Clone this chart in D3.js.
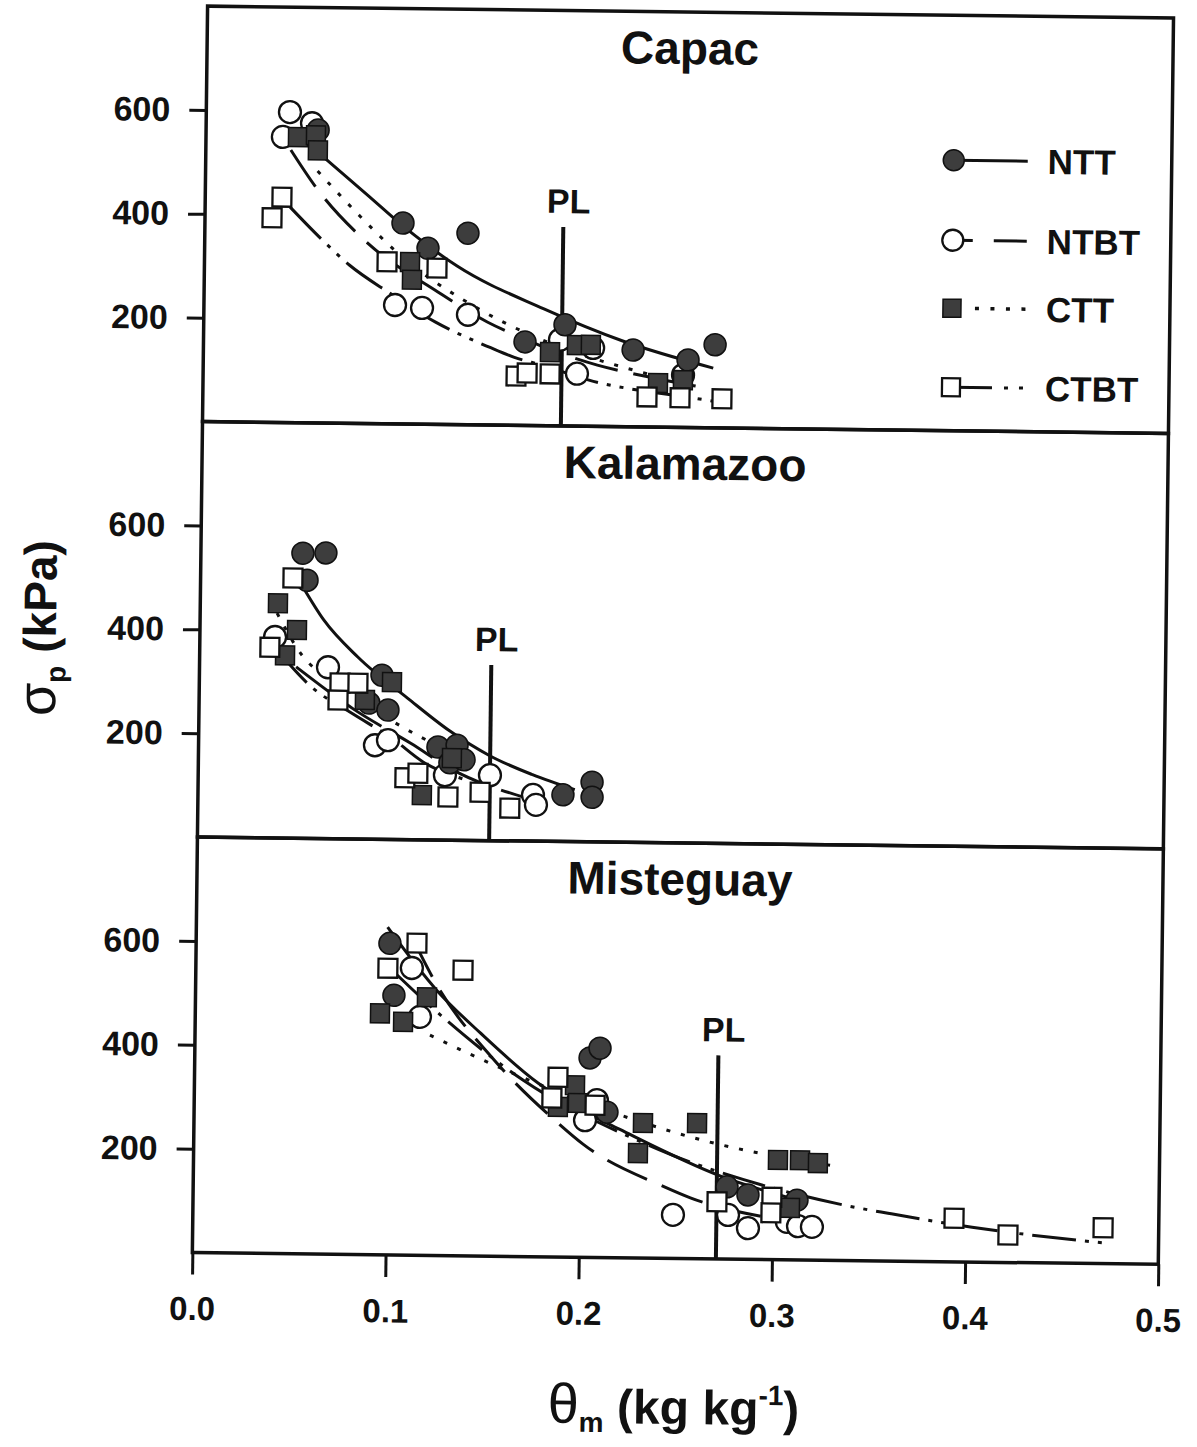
<!DOCTYPE html>
<html>
<head>
<meta charset="utf-8">
<script src="https://cdn.jsdelivr.net/npm/d3@7/dist/d3.min.js"></script>
<style>
  html, body { margin: 0; padding: 0; background: #ffffff; }
  svg text { font-family: "Liberation Sans", Arial, Helvetica, sans-serif; fill: #111; }
</style>
</head>
<body>
<svg id="chart" width="1197" height="1447"></svg>
<script>
// Sites (one panel each, top to bottom) and tillage treatments
const sites = ["Capac", "Kalamazoo", "Misteguay"];
const treatments = ["NTT", "NTBT", "CTT", "CTBT"];
const xTickValues = [0, 0.1, 0.2, 0.3, 0.4, 0.5];
const yTickValues = [200, 400, 600];
// Plastic limit (kg kg-1) of each site and the height (kPa) its marker line reaches
const plasticLimit = [0.1855, 0.151, 0.271];
const plasticLimitTop = [383, 338, 392];

// Measured precompression stress [θm (kg kg-1), σp (kPa)]
const capacNTT = [[0.058,564],[0.1025,387],[0.1156,339],[0.1362,369],[0.187,195],[0.1664,161],[0.2224,148],[0.2509,130],[0.2648,160]];
const capacNTBT = [[0.0433,598],[0.0548,577],[0.0398,550],[0.0989,229],[0.1129,224],[0.1367,212],[0.1845,166],[0.2017,151],[0.1935,101],[0.2484,101]];
const capacCTT = [[0.0476,550],[0.0569,554],[0.058,525],[0.1064,312],[0.1075,278],[0.1794,142],[0.1933,156],[0.2005,157],[0.2355,85],[0.2484,91]];
const capacCTBT = [[0.0397,434],[0.0347,394],[0.0945,312],[0.1204,301],[0.162,95],[0.1677,101],[0.1796,100],[0.2299,58],[0.247,57],[0.2687,56]];

const kalamazooNTT = [[0.0528,549],[0.0647,550],[0.0551,497],[0.0945,316],[0.0879,262],[0.0978,249],[0.1239,179],[0.1338,183],[0.1302,149],[0.1375,155],[0.1889,90],[0.2039,115],[0.204,86]];
const kalamazooNTBT = [[0.0389,387],[0.0665,330],[0.0913,181],[0.098,191],[0.1277,125],[0.151,126],[0.1734,89],[0.175,70]];
const kalamazooCTT = [[0.0402,452],[0.0502,401],[0.0442,352],[0.0997,303],[0.0858,268],[0.1159,86],[0.1312,158]];
const kalamazooCTBT = [[0.0478,501],[0.0363,367],[0.0728,300],[0.0821,300],[0.0719,267],[0.107,119],[0.1137,128],[0.1294,83],[0.146,93],[0.1615,63]];

const misteguayNTT = [[0.1003,600],[0.1027,500],[0.2046,384],[0.2097,403],[0.2137,280],[0.2763,139],[0.2872,124],[0.3126,115]];
const misteguayNTBT = [[0.1118,553],[0.1163,459],[0.2084,303],[0.2024,264],[0.2485,84],[0.277,85],[0.2874,60],[0.3075,73],[0.3133,65],[0.3205,64]];
const misteguayCTT = [[0.0956,465],[0.1076,449],[0.1198,497],[0.197,331],[0.1986,297],[0.1883,289],[0.2324,260],[0.2604,261],[0.23,202],[0.3025,192],[0.3139,192],[0.3232,187],[0.309,100]];
const misteguayCTBT = [[0.1143,601],[0.0994,552],[0.1383,550],[0.1881,346],[0.1851,306],[0.2075,293],[0.2712,110],[0.2996,120],[0.2992,90],[0.394,84],[0.422,53],[0.4712,69]];

// Fitted curves, sampled along each regression line [θm, σp]
const capacNTTFit = [[0.061,512],[0.084,440],[0.103,380],[0.131,305],[0.176,225],[0.217,165],[0.264,115]];
const capacNTBTFit = [[0.044,525],[0.058,450],[0.083,352],[0.121,255],[0.147,198],[0.16,176],[0.204,118],[0.2245,101],[0.255,80]];
const capacCTTFit = [[0.058,485],[0.08,400],[0.1,329],[0.143,222],[0.19,145],[0.22,112],[0.25,85]];
const capacCTBTFit = [[0.044,415],[0.061,352],[0.075,305],[0.096,252],[0.12,197],[0.148,150],[0.161,131],[0.175,117],[0.205,84],[0.225,71],[0.254,57],[0.266,50]];

const kalamazooNTTFit = [[0.053,484],[0.064,421],[0.082,350],[0.108,272],[0.13,210],[0.151,163],[0.173,128],[0.195,100]];
const kalamazooNTBTFit = [[0.05,330],[0.08,250],[0.11,185],[0.132,135],[0.17,83]];
const kalamazooCTTFit = [[0.0398,433],[0.0529,353],[0.07,300],[0.1,228],[0.13,170]];
const kalamazooCTBTFit = [[0.04,362],[0.058,292],[0.08,240],[0.1,195],[0.1163,150],[0.14,115]];

const misteguayNTTFit = [[0.099,631],[0.125,510],[0.1475,430],[0.178,334],[0.196,292],[0.2205,247],[0.2726,160],[0.315,113]];
const misteguayNTBTFit = [[0.1117,612],[0.125,520],[0.1544,380],[0.1884,258],[0.2015,218],[0.2442,137],[0.2574,117],[0.2987,80],[0.32,68]];
const misteguayCTTFit = [[0.1216,424],[0.16,360],[0.2204,275],[0.2636,228],[0.3295,183]];
const misteguayCTBTFit = [[0.1005,552],[0.1282,459],[0.17,340],[0.2294,227],[0.2585,184],[0.2726,167],[0.3452,101],[0.3598,92],[0.4034,67],[0.4713,40]];

// ---------------------------------------------------------------------------

const panels = [
  { points: { NTT: capacNTT, NTBT: capacNTBT, CTT: capacCTT, CTBT: capacCTBT },
    fits:   { NTT: capacNTTFit, NTBT: capacNTBTFit, CTT: capacCTTFit, CTBT: capacCTBTFit } },
  { points: { NTT: kalamazooNTT, NTBT: kalamazooNTBT, CTT: kalamazooCTT, CTBT: kalamazooCTBT },
    fits:   { NTT: kalamazooNTTFit, NTBT: kalamazooNTBTFit, CTT: kalamazooCTTFit, CTBT: kalamazooCTBTFit } },
  { points: { NTT: misteguayNTT, NTBT: misteguayNTBT, CTT: misteguayCTT, CTBT: misteguayCTBT },
    fits:   { NTT: misteguayNTTFit, NTBT: misteguayNTBTFit, CTT: misteguayCTTFit, CTBT: misteguayCTBTFit } }
];

const style = {
  NTT:  { shape: "circle", filled: true,  dash: null },
  NTBT: { shape: "circle", filled: false, dash: "44,16" },
  CTT:  { shape: "square", filled: true,  dash: "4,11" },
  CTBT: { shape: "square", filled: false, dash: "44,9,4,9,4,9" }
};

const ink = "#111";
const darkFill = "#3d3d3d";
const plot = { left: 200, right: 1166, top: 12, panelHeight: 415.5 };
const font = "Liberation Sans, Arial, Helvetica, sans-serif";

const svg = d3.select("#chart");
// the whole figure sits slightly tilted on the page
const figure = svg.append("g").attr("transform", "rotate(0.7 684 630)");

const x = d3.scaleLinear().domain([0, 0.5]).range([plot.left, plot.right]);

function drawMarkers(g, data, t, y) {
  const s = style[t];
  const r = 11;
  const fill = s.filled ? darkFill : "#fff";
  const sw = s.filled ? 1.5 : 2.3;
  if (s.shape === "circle") {
    g.append("g").selectAll("circle").data(data).join("circle")
      .attr("cx", d => x(d[0])).attr("cy", d => y(d[1])).attr("r", r)
      .attr("fill", fill).attr("stroke", ink).attr("stroke-width", sw);
  } else {
    const h = r * 0.86;
    g.append("g").selectAll("rect").data(data).join("rect")
      .attr("x", d => x(d[0]) - h).attr("y", d => y(d[1]) - h)
      .attr("width", 2 * h).attr("height", 2 * h)
      .attr("fill", fill).attr("stroke", ink).attr("stroke-width", sw);
  }
}

panels.forEach((p, i) => {
  const top = plot.top + i * plot.panelHeight;
  const bottom = top + plot.panelHeight;
  const y = d3.scaleLinear().domain([0, 800]).range([bottom, top]);
  const g = figure.append("g").attr("class", "panel");

  // regression curves
  const line = d3.line().x(d => x(d[0])).y(d => y(d[1])).curve(d3.curveMonotoneX);
  treatments.forEach(t => {
    g.append("path")
      .attr("d", line(p.fits[t]))
      .attr("fill", "none").attr("stroke", ink).attr("stroke-width", 3)
      .attr("stroke-dasharray", style[t].dash);
  });

  // plastic limit marker
  const plx = x(plasticLimit[i]);
  g.append("line")
    .attr("x1", plx).attr("x2", plx)
    .attr("y1", y(0)).attr("y2", y(plasticLimitTop[i]))
    .attr("stroke", ink).attr("stroke-width", 4);
  g.append("text")
    .attr("x", plx + 5).attr("y", y(plasticLimitTop[i]) - 14)
    .attr("text-anchor", "middle")
    .attr("font-size", 34).attr("font-weight", "bold")
    .text("PL");

  // data points
  ["NTBT", "NTT", "CTT", "CTBT"].forEach(t => drawMarkers(g, p.points[t], t, y));

  // panel frame
  g.append("rect")
    .attr("x", plot.left).attr("y", top)
    .attr("width", plot.right - plot.left).attr("height", plot.panelHeight)
    .attr("fill", "none").attr("stroke", ink).attr("stroke-width", 3.5);

  // y axis
  const yAxis = d3.axisLeft(y).tickValues(yTickValues).tickSize(17).tickPadding(19).tickFormat(d3.format("d"));
  const ya = g.append("g").attr("transform", `translate(${plot.left},0)`).call(yAxis);
  ya.select(".domain").remove();
  ya.attr("font-size", 34).attr("font-family", font).attr("font-weight", "bold");
  ya.selectAll(".tick line").attr("stroke", ink).attr("stroke-width", 3);
  ya.selectAll(".tick text").attr("fill", ink);

  // site title
  g.append("text")
    .attr("x", (plot.left + plot.right) / 2).attr("y", top + 52)
    .attr("text-anchor", "middle")
    .attr("font-size", 46).attr("font-weight", "bold")
    .text(sites[i]);

  // x axis on the bottom panel
  if (i === panels.length - 1) {
    const xAxis = d3.axisBottom(x).tickValues(xTickValues).tickSize(22).tickPadding(22).tickFormat(d3.format(".1f"));
    const xa = g.append("g").attr("transform", `translate(0,${bottom})`).call(xAxis);
    xa.select(".domain").remove();
    xa.attr("font-size", 33).attr("font-family", font).attr("font-weight", "bold");
    xa.selectAll(".tick line").attr("stroke", ink).attr("stroke-width", 3);
    xa.selectAll(".tick text").attr("fill", ink);
  }

  // legend in the top panel
  if (i === 0) {
    const rows = [157, 237, 305, 384];
    const mx = 948, lineEnd = 1022, textX = 1042;
    const legendDash = { NTT: null, NTBT: "20,21,40", CTT: null, CTBT: "41,12,4,11,4,30" };
    treatments.forEach((t, k) => {
      const ly = rows[k];
      if (t === "CTT") {
        g.append("line").attr("x1", mx + 23).attr("x2", lineEnd + 2).attr("y1", ly).attr("y2", ly)
          .attr("stroke", ink).attr("stroke-width", 3.5).attr("stroke-dasharray", "4,11.5");
      } else {
        g.append("line").attr("x1", mx).attr("x2", lineEnd).attr("y1", ly).attr("y2", ly)
          .attr("stroke", ink).attr("stroke-width", 3).attr("stroke-dasharray", legendDash[t]);
      }
      const s = style[t];
      if (s.shape === "circle") {
        g.append("circle").attr("cx", mx).attr("cy", ly).attr("r", 10.5)
          .attr("fill", s.filled ? darkFill : "#fff").attr("stroke", ink).attr("stroke-width", s.filled ? 1.5 : 2.3);
      } else {
        g.append("rect").attr("x", mx - 9).attr("y", ly - 9).attr("width", 18).attr("height", 18)
          .attr("fill", s.filled ? darkFill : "#fff").attr("stroke", ink).attr("stroke-width", s.filled ? 1.5 : 2.3);
      }
      g.append("text").attr("x", textX).attr("y", ly).attr("dy", "0.36em")
        .attr("font-size", 35).attr("font-weight", "bold").text(t);
    });
  }
});

// axis titles
const yTitle = figure.append("text")
  .attr("transform", "translate(56,636) rotate(-90)")
  .attr("text-anchor", "middle");
yTitle.append("tspan").attr("font-size", 54).attr("font-weight", "normal").text("σ");
yTitle.append("tspan").attr("font-size", 28).attr("font-weight", "bold").attr("dy", 10).text("p");
yTitle.append("tspan").attr("font-size", 46).attr("font-weight", "bold").attr("dy", -10).text(" (kPa)");

const xTitle = figure.append("text")
  .attr("x", (plot.left + plot.right) / 2).attr("y", 1424)
  .attr("text-anchor", "middle");
xTitle.append("tspan").attr("font-size", 56).attr("font-weight", "normal").text("θ");
xTitle.append("tspan").attr("font-size", 28).attr("font-weight", "bold").attr("dy", 9).text("m");
xTitle.append("tspan").attr("font-size", 48).attr("font-weight", "bold").attr("dy", -9).text(" (kg kg");
xTitle.append("tspan").attr("font-size", 28).attr("font-weight", "bold").attr("dy", -20).text("-1");
xTitle.append("tspan").attr("font-size", 48).attr("font-weight", "bold").attr("dy", 20).text(")");
</script>
</body>
</html>
